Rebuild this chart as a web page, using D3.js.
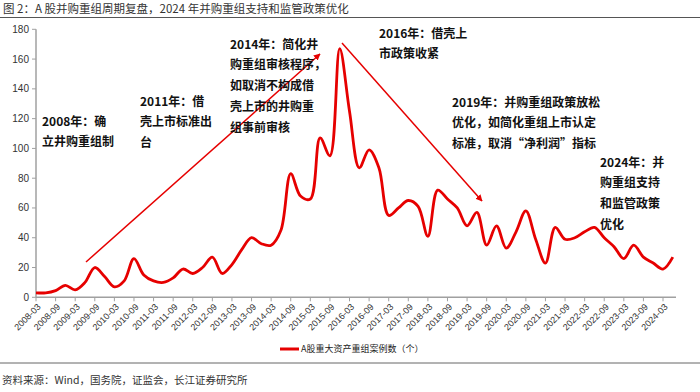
<!DOCTYPE html>
<html><head><meta charset="utf-8">
<script src="https://cdn.jsdelivr.net/npm/d3@7/dist/d3.min.js"></script>
<style>
body{margin:0;background:#fff;}
svg{display:block;font-family:"Noto Sans CJK SC","Liberation Sans",sans-serif;}
</style></head>
<body>
<svg id="chart" width="700" height="392"></svg>
<script>
const categories = ["2008-03","2008-06","2008-09","2008-12","2009-03","2009-06","2009-09","2009-12",
"2010-03","2010-06","2010-09","2010-12","2011-03","2011-06","2011-09","2011-12",
"2012-03","2012-06","2012-09","2012-12","2013-03","2013-06","2013-09","2013-12",
"2014-03","2014-06","2014-09","2014-12","2015-03","2015-06","2015-09","2015-12",
"2016-03","2016-06","2016-09","2016-12","2017-03","2017-06","2017-09","2017-12",
"2018-03","2018-06","2018-09","2018-12","2019-03","2019-06","2019-09","2019-12",
"2020-03","2020-06","2020-09","2020-12","2021-03","2021-06","2021-09","2021-12",
"2022-03","2022-06","2022-09","2022-12","2023-03","2023-06","2023-09","2023-12",
"2024-03","2024-06"];
const values = [3,3,4.5,8,5,10,20,14,7,11,26,15,11,10,13,19,16,20,27,16,22,32,40,36,35,45,83,68,66,107,95,167,125,87,99,87,55,60,65,61,41,72,66,60,48,57,35,48,33,44,58,39,23,47,39,40,44,47,40,34,26,35,27,23,19,27];
const xTickLabels = ["2008-03","2008-09","2009-03","2009-09","2010-03","2010-09","2011-03","2011-09",
"2012-03","2012-09","2013-03","2013-09","2014-03","2014-09","2015-03","2015-09","2016-03","2016-09",
"2017-03","2017-09","2018-03","2018-09","2019-03","2019-09","2020-03","2020-09","2021-03","2021-09",
"2022-03","2022-09","2023-03","2023-09","2024-03"];
const yTicks = [0,20,40,60,80,100,120,140,160,180];
const seriesName = "A股重大资产重组案例数（个）";
const title = "图 2：A 股并购重组周期复盘，2024 年并购重组支持和监管政策优化";
const source = "资料来源：Wind，国务院，证监会，长江证券研究所";
const annotations = [
  {x:42, y:121, lines:["2008年：确","立井购重组制"]},
  {x:140, y:101, lines:["2011年：借","壳上市标准出","台"]},
  {x:230, y:44, lines:["2014年：简化井","购重组审核程序，","如取消不构成借","壳上市的井购重","组事前审核"]},
  {x:379, y:33, lines:["2016年：借壳上","市政策收紧"]},
  {x:452, y:102, lines:["2019年：并购重组政策放松","优化，如简化重组上市认定","标准，取消“净利润”指标"]},
  {x:600, y:162, lines:["2024年：并","购重组支持","和监管政策","优化"]}
];

const svg = d3.select("#chart");
const red = "#e60000";
const step = 9.797;
const x = d3.scaleLinear().domain([0, categories.length - 1]).range([36, 36 + step*(categories.length-1)]);
const y = d3.scaleLinear().domain([0,180]).range([297.3, 29.3]);

// title
svg.append("text").attr("x",3).attr("y",8.5).attr("dy","0.38em").attr("font-size",11.5).attr("fill","#333").text(title);
svg.append("line").attr("x1",0).attr("x2",700).attr("y1",17.5).attr("y2",17.5).attr("stroke","#555").attr("stroke-width",1);

// y axis
const gy = svg.append("g");
gy.append("line").attr("x1",36).attr("x2",36).attr("y1",y(0)).attr("y2",y(180)).attr("stroke","#a0a0a0").attr("stroke-width",1.5);
yTicks.forEach(t=>{
  gy.append("line").attr("x1",32).attr("x2",36).attr("y1",y(t)).attr("y2",y(t)).attr("stroke","#a0a0a0").attr("stroke-width",1);
  gy.append("text").attr("x",29).attr("y",y(t)).attr("dy","0.35em").attr("text-anchor","end")
    .attr("font-size",10).attr("fill","#333").attr("font-family","Liberation Sans, Arial, sans-serif").text(t);
});

// x axis
const gx = svg.append("g");
gx.append("line").attr("x1",36).attr("x2",676).attr("y1",y(0)).attr("y2",y(0)).attr("stroke","#a0a0a0").attr("stroke-width",1.5);
xTickLabels.forEach(lbl=>{
  const i = categories.indexOf(lbl);
  const xx = x(i);
  gx.append("line").attr("x1",xx).attr("x2",xx).attr("y1",y(0)).attr("y2",y(0)+4).attr("stroke","#a0a0a0").attr("stroke-width",1);
  gx.append("text").attr("transform",`translate(${xx+3},${y(0)+8}) rotate(-45)`).attr("text-anchor","end")
    .attr("dy","0.35em").attr("font-size",9).attr("fill","#333").attr("font-family","Liberation Sans, Arial, sans-serif").text(lbl);
});

// line
const line = d3.line().x((d,i)=>x(i)).y(d=>y(d)).curve(d3.curveCatmullRom.alpha(0.5));
svg.append("path").datum(values).attr("d",line).attr("fill","none").attr("stroke",red).attr("stroke-width",2.8).attr("stroke-linejoin","round");

// arrows
const defs = svg.append("defs");
defs.append("marker").attr("id","arr").attr("viewBox","0 0 10 10").attr("refX",9).attr("refY",5)
  .attr("markerWidth",4.5).attr("markerHeight",4.5).attr("orient","auto")
  .append("path").attr("d","M0,0 L10,5 L0,10 Z").attr("fill",red);
svg.append("line").attr("x1",86).attr("y1",262).attr("x2",320).attr("y2",54).attr("stroke",red).attr("stroke-width",1.5).attr("marker-end","url(#arr)");
svg.append("line").attr("x1",342).attr("y1",43).attr("x2",482).attr("y2",201).attr("stroke",red).attr("stroke-width",1.5).attr("marker-end","url(#arr)");

// annotations
annotations.forEach(a=>{
  const t = svg.append("text").attr("font-size",12).attr("font-weight","bold").attr("fill","#111");
  a.lines.forEach((l,k)=>{
    t.append("tspan").attr("x",a.x).attr("y",a.y + k*20.8).attr("dy","0.38em").text(l);
  });
});

// legend
svg.append("line").attr("x1",280).attr("x2",299).attr("y1",349).attr("y2",349).attr("stroke",red).attr("stroke-width",3);
svg.append("text").attr("x",301).attr("y",349).attr("dy","0.35em").attr("font-size",9).attr("fill","#222").text(seriesName);

// footer
svg.append("line").attr("x1",0).attr("x2",700).attr("y1",363).attr("y2",363).attr("stroke","#666").attr("stroke-width",1);
svg.append("text").attr("x",2).attr("y",380).attr("dy","0.35em").attr("font-size",10.5).attr("fill","#333").text(source);
</script>
</body></html>
